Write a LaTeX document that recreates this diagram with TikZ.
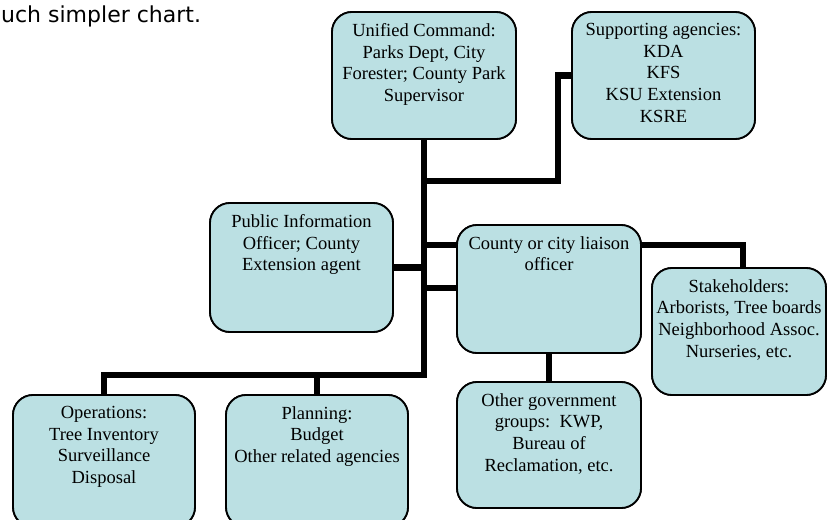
\documentclass[tikz,border=0pt]{standalone}
\usepackage{fontspec}
\setmainfont{Liberation Serif}
\newfontfamily\topfont{DejaVu Sans}
\definecolor{boxblue}{HTML}{BBE0E3}
\begin{document}
\begin{tikzpicture}[x=1pt,y=-1pt,
  box/.style={draw=black, line width=1.8pt, fill=boxblue, rounded corners=20pt, inner sep=0pt},
  txt/.style={anchor=north, inner sep=0pt, align=center, font=\fontsize{18.5}{21.7}\selectfont, yshift=-12pt},
  conn/.style={line width=6.5pt, line join=miter, line cap=rect, draw=black}]
\useasboundingbox (0,0) rectangle (829,519);
\clip (0,0) rectangle (829,519);

\node[anchor=base west, inner sep=0pt, font=\topfont\fontsize{22}{26}\selectfont] (intro) at (1,23) {uch simpler chart.};

% boxes (positions only)
\node[box, minimum width=184, minimum height=127] (uc) at (424,75.5) {};
\node[box, minimum width=183, minimum height=127] (sa) at (663.5,75.5) {};
\node[box, minimum width=183, minimum height=129] (pio) at (301.5,267.5) {};
\node[box, minimum width=184, minimum height=128] (lia) at (549,289) {};
\node[box, minimum width=174, minimum height=127] (sh) at (739,331.5) {};
\node[box, minimum width=182, minimum height=132] (ops) at (104,461) {};
\node[box, minimum width=182, minimum height=132] (plan) at (317,461) {};
\node[box, minimum width=184, minimum height=126] (og) at (549,445) {};

% junction coordinates
\coordinate (jbar) at (424,375);
\coordinate (jsa) at (424,181);
\coordinate (jsaup) at (558,181);
\coordinate (jl1) at (424,245);
\coordinate (jl2) at (424,288);
\coordinate (jsh) at (743,245);

% connectors
\draw[conn] (uc.south) -- (jbar);
\draw[conn] (sa.west) -| (jsaup) -- (jsa);
\draw[conn] (pio.east) -- (pio.east -| jbar);
\draw[conn] (jl1) -- (jl1 -| lia.west);
\draw[conn] (jl2) -- (jl2 -| lia.west);
\draw[conn] (jl1 -| lia.east) -- (jsh) -- (jsh |- sh.north);
\draw[conn] (lia.south) -- (og.north);
\draw[conn] (ops.north) |- (jbar);
\draw[conn] (plan.north) -- (plan.north |- jbar);

% boxes drawn over connector ends
\node[box, minimum width=184, minimum height=127] at (uc) {};
\node[box, minimum width=183, minimum height=127] at (sa) {};
\node[box, minimum width=183, minimum height=129] at (pio) {};
\node[box, minimum width=184, minimum height=128] at (lia) {};
\node[box, minimum width=174, minimum height=127] at (sh) {};
\node[box, minimum width=182, minimum height=132] at (ops) {};
\node[box, minimum width=182, minimum height=132] at (plan) {};
\node[box, minimum width=184, minimum height=126] at (og) {};

% texts
\node[txt] (uct) at (uc.north) {Unified Command:\\Parks Dept, City\\Forester; County Park\\Supervisor};
\node[txt] (sat) at (sa.north) {Supporting agencies:\\KDA\\KFS\\KSU Extension\\KSRE};
\node[txt] (piot) at (pio.north) {Public Information\\Officer; County\\Extension agent};
\node[txt] (liat) at (lia.north) {County or city liaison\\officer};
\node[txt] (sht) at (sh.north) {Stakeholders:\\Arborists, Tree boards\\Neighborhood Assoc.\\Nurseries, etc.};
\node[txt] (opst) at (ops.north) {Operations:\\Tree Inventory\\Surveillance\\Disposal};
\node[txt] (plant) at (plan.north) {Planning:\\Budget\\Other related agencies};
\node[txt] (ogt) at (og.north) {Other government\\groups:\ \ KWP,\\Bureau of\\Reclamation, etc.};
\end{tikzpicture}
\end{document}
